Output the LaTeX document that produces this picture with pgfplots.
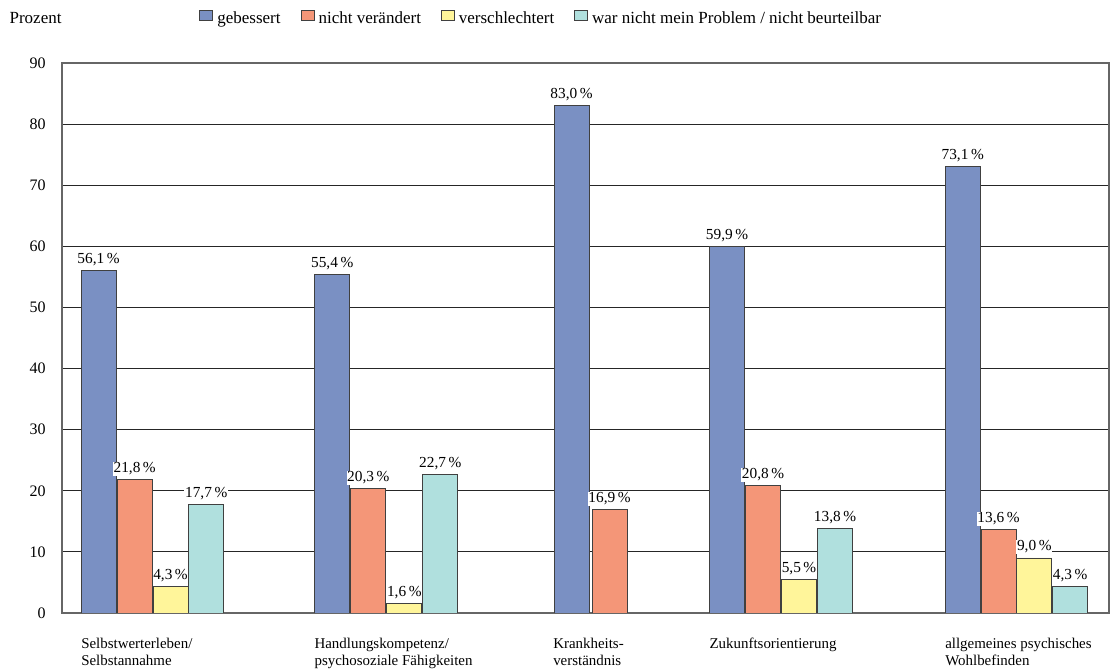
\documentclass[border=0pt]{standalone}
\usepackage{fontspec}
\setmainfont{Liberation Serif}
\usepackage{pgfplots}
\pgfplotsset{compat=1.18}
\definecolor{cBlue}{HTML}{7A90C3}
\definecolor{cOrange}{HTML}{F49678}
\definecolor{cYellow}{HTML}{FFF59A}
\definecolor{cTeal}{HTML}{B0E0DE}
\newcommand{\lgfont}{\fontsize{12.75}{14}\selectfont}
\newcommand{\tkfont}{\fontsize{12}{14}\selectfont}
\newcommand{\dlfont}{\fontsize{11.5}{13}\selectfont}
\newcommand{\ctfont}{\fontsize{11.2}{13}\selectfont}
\begin{document}
\begin{tikzpicture}
\useasboundingbox (0pt,0pt) rectangle (834.75pt,502.5pt);
\node[anchor=base west, inner sep=0pt, font=\lgfont] at (7pt,485pt) {Prozent};
\begin{axis}[
  at={(46.5pt,42.75pt)}, anchor=south west,
  width=785.25pt, height=412.5pt, scale only axis,
  xmin=62, xmax=1109, ymin=0, ymax=90,
  /pgf/number format/assume math mode=true,
  ytick={0,10,...,90},
  ymajorgrids, grid style={black!85, line width=0.6pt},
  major tick length=0pt,
  axis line style={black!60, line width=0.9pt},
  ybar, bar width=35, bar shift=0pt,
  every axis plot/.append style={draw=black!75, line width=0.7pt},
  yticklabel style={font=\tkfont, anchor=east, inner sep=0pt, xshift=-12pt},
  xtick={81,314.3,553,709.3,945},
  xticklabels={{Selbstwerterleben/\\Selbstannahme},{Handlungskompetenz/\\psychosoziale Fähigkeiten},{Krankheits-\\verständnis},{Zukunftsorientierung},{allgemeines psychisches\\Wohlbefinden}},
  xticklabel style={font=\ctfont, anchor=north west, align=left, inner sep=0pt, yshift=-18.5pt},
  nodes near coords={\pgfmathprintnumber[fixed,fixed zerofill,precision=1,use comma]{\pgfplotspointmeta}\,\%},
  every node near coord/.append style={font=\dlfont, text=black, fill=white, inner xsep=0.5pt, inner ysep=0.5pt, anchor=base, yshift=5.25pt},
  legend columns=4,
  legend style={at={(rel axis cs:0.131,1.081)}, anchor=west, draw=none, fill=none, inner sep=0pt, font=\lgfont,
    /tikz/every odd column/.append style={column sep=1pt},
    /tikz/every even column/.append style={column sep=13pt}},
  legend image code/.code={\fill (0pt,-0.12em) rectangle (9.75pt,0.58em);},
]
\addplot[fill=cBlue] coordinates {(98.5,56.1) (332.2,55.4) (571.5,83.0) (727,59.9) (962.7,73.1)};
\addplot[fill=cOrange] coordinates {(134.7,21.8) (368.3,20.3) (609.5,16.9) (763,20.8) (998.5,13.6)};
\addplot[fill=cYellow] coordinates {(170.5,4.3) (404.3,1.6) (799,5.5) (1034.3,9.0)};
\addplot[fill=cTeal] coordinates {(206.2,17.7) (440.3,22.7) (835,13.8) (1070.2,4.3)};
\legend{gebessert, nicht verändert, verschlechtert, war nicht mein Problem / nicht beurteilbar}
\end{axis}
\end{tikzpicture}
\end{document}
